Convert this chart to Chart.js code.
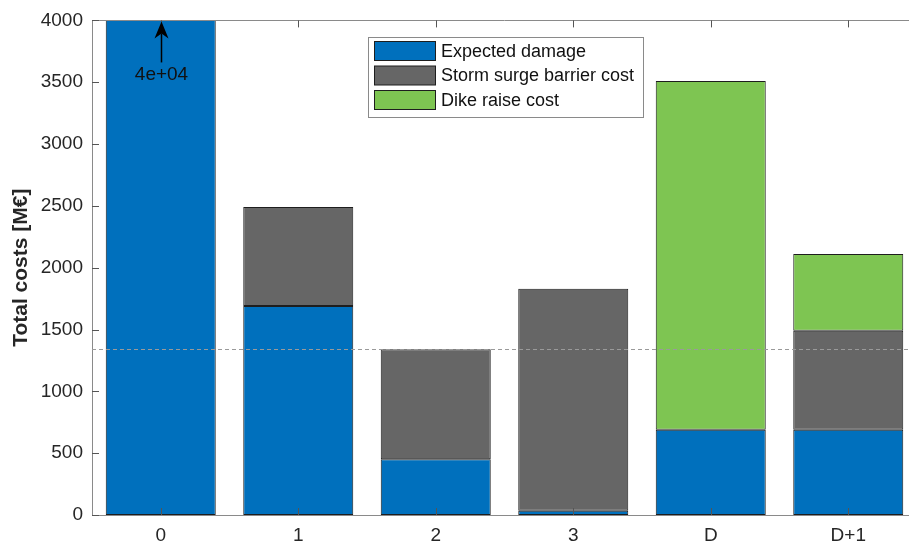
<!DOCTYPE html>
<html>
<head>
<meta charset="utf-8">
<script src="https://cdn.jsdelivr.net/npm/chart.js@4/dist/chart.umd.min.js"></script>
<style>
  html, body { margin: 0; padding: 0; background: #fff; overflow: hidden; width: 909px; height: 543px; }
  #wrap { width: 930px; height: 543px; }
</style>
</head>
<body>
<div id="wrap"><canvas id="costs" width="930" height="543"></canvas></div>
<script>
// Strategies on the x axis and the cost components of each (M€)
const categories = ['0', '1', '2', '3', 'D', 'D+1'];
const expectedDamage = [40000, 1690, 450, 35, 690, 690];
const barrierCost = [0, 800, 890, 1795, 0, 800];
const dikeRaiseCost = [0, 0, 0, 0, 2820, 620];
const seriesLabels = ['Expected damage', 'Storm surge barrier cost', 'Dike raise cost'];
const yTickValues = [0, 500, 1000, 1500, 2000, 2500, 3000, 3500, 4000];

const colors = { damage: '#0070bd', barrier: '#666666', dike: '#7ec552', edge: '#1e1e1e' };
const FONT = "'Liberation Sans', Arial, Helvetica, sans-serif";
const TEXT = '#262626';
const AXIS = '#8a8a8a';

// MATLAB-style exponent label, e.g. 4e+04
function expLabel(v) {
  const e = Math.floor(Math.log10(Math.abs(v)));
  const m = Math.round(v / Math.pow(10, e));
  return m + 'e' + (e < 0 ? '-' : '+') + String(Math.abs(e)).padStart(2, '0');
}

const edgeWidth = ctx => (ctx.raw ? 1 : 0);

function series(label, data, color) {
  return {
    label, data,
    backgroundColor: color,
    borderColor: colors.edge,
    borderWidth: edgeWidth,
    borderSkipped: false,
    barPercentage: 0.8,
    categoryPercentage: 1.0
  };
}

// Axes box, inward ticks, reference line, off-scale arrow and legend
const overlay = {
  id: 'overlay',
  afterDatasetsDraw(chart) {
    const { ctx, chartArea: a, scales: { x, y } } = chart;
    ctx.save();

    // dashed line at the lowest total cost
    const totals = categories.map((_, i) => expectedDamage[i] + barrierCost[i] + dikeRaiseCost[i]);
    const best = Math.min(...totals);
    const yb = Math.round(y.getPixelForValue(best)) + 0.5;
    ctx.strokeStyle = '#9a9a9a';
    ctx.lineWidth = 1;
    ctx.setLineDash([4, 3]);
    ctx.beginPath(); ctx.moveTo(a.left, yb); ctx.lineTo(a.right, yb); ctx.stroke();
    ctx.setLineDash([]);

    // top edge of the box
    ctx.strokeStyle = AXIS;
    const top = Math.round(a.top) + 0.5;
    ctx.beginPath(); ctx.moveTo(a.left, top); ctx.lineTo(a.right, top); ctx.stroke();

    // inward tick marks
    ctx.strokeStyle = '#555';
    const tl = 7;
    categories.forEach((_, i) => {
      const px = Math.round(x.getPixelForValue(i)) + 0.5;
      ctx.beginPath(); ctx.moveTo(px, a.bottom); ctx.lineTo(px, a.bottom - tl); ctx.stroke();
      ctx.beginPath(); ctx.moveTo(px, a.top); ctx.lineTo(px, a.top + tl); ctx.stroke();
    });
    yTickValues.forEach(v => {
      const py = Math.round(y.getPixelForValue(v)) + 0.5;
      ctx.beginPath(); ctx.moveTo(a.left, py); ctx.lineTo(a.left + tl, py); ctx.stroke();
    });

    // arrow marking the off-scale bar and its value
    const ax = Math.round(x.getPixelForValue(0)) + 0.5;
    const tip = a.top + 1;
    ctx.strokeStyle = '#000';
    ctx.fillStyle = '#000';
    ctx.lineWidth = 1.5;
    ctx.beginPath(); ctx.moveTo(ax, tip + 12); ctx.lineTo(ax, y.getPixelForValue(3660)); ctx.stroke();
    ctx.beginPath();
    ctx.moveTo(ax, tip);
    ctx.lineTo(ax + 7, tip + 17);
    ctx.lineTo(ax, tip + 12);
    ctx.lineTo(ax - 7, tip + 17);
    ctx.closePath(); ctx.fill();
    ctx.font = '19px ' + FONT;
    ctx.textAlign = 'center';
    ctx.textBaseline = 'middle';
    ctx.fillStyle = '#111';
    ctx.fillText(expLabel(expectedDamage[0]), ax, y.getPixelForValue(3560));

    // legend box
    const L = { left: 368.5, top: 37.5, width: 275, height: 80 };
    ctx.lineWidth = 1;
    ctx.fillStyle = '#fff';
    ctx.fillRect(L.left, L.top, L.width, L.height);
    ctx.strokeStyle = '#8a8a8a';
    ctx.strokeRect(L.left, L.top, L.width, L.height);
    ctx.font = '18px ' + FONT;
    ctx.textAlign = 'left';
    chart.data.datasets.forEach((ds, i) => {
      const cy = 51 + i * 24.5;
      ctx.fillStyle = ds.backgroundColor;
      ctx.fillRect(374.5, cy - 9.5, 61, 19);
      ctx.strokeStyle = colors.edge;
      ctx.strokeRect(374.5, cy - 9.5, 61, 19);
      ctx.fillStyle = '#111';
      ctx.fillText(ds.label, 441, cy + 1);
    });

    ctx.restore();
  }
};

new Chart(document.getElementById('costs'), {
  type: 'bar',
  data: {
    labels: categories,
    datasets: [
      series(seriesLabels[0], expectedDamage, colors.damage),
      series(seriesLabels[1], barrierCost, colors.barrier),
      series(seriesLabels[2], dikeRaiseCost, colors.dike)
    ]
  },
  options: {
    responsive: false,
    devicePixelRatio: 1,
    animation: false,
    layout: { padding: { top: 18, right: 13, left: 0, bottom: 0 } },
    plugins: { legend: { display: false }, tooltip: { enabled: false } },
    scales: {
      x: {
        stacked: true,
        grid: { display: false, drawTicks: false },
        border: { color: AXIS, width: 1 },
        ticks: { color: TEXT, font: { family: FONT, size: 19 }, padding: 9, autoSkip: false, maxRotation: 0 },
        afterFit: s => { s.height = 28; }
      },
      y: {
        stacked: true,
        min: 0,
        max: 4000,
        grid: { display: false, drawTicks: false },
        border: { color: AXIS, width: 1 },
        afterBuildTicks: s => { s.ticks = yTickValues.map(v => ({ value: v })); },
        ticks: { color: TEXT, font: { family: FONT, size: 19 }, padding: 9, callback: v => String(v) },
        title: {
          display: true,
          text: 'Total costs [M€]',
          color: TEXT,
          font: { family: FONT, size: 21, weight: 'bold' },
          padding: { top: 9, bottom: 0 }
        },
        afterFit: s => { s.width = 92; }
      }
    }
  },
  plugins: [overlay]
});
</script>
</body>
</html>
